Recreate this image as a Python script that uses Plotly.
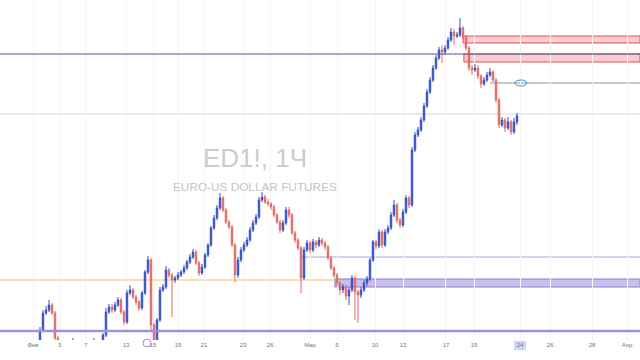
import plotly.graph_objects as go

# ---- data (hourly candles, index = bar number) ----
first_open = 1.0755
closes = [
    1.0770,1.0787,1.0790,1.0795,1.0787,1.0762,1.0750,1.0745,1.0748,1.0744,
    1.0750,1.0752,1.0745,1.0740,1.0742,1.0746,1.0743,1.0750,1.0753,1.0748,
    1.0752,1.0765,1.0788,1.0793,1.0790,1.0795,1.0800,1.0788,1.0778,1.0807,
    1.0810,1.0803,1.0798,1.0792,1.0807,1.0828,1.0840,1.0775,1.0750,1.0780,
    1.0810,1.0813,1.0830,1.0825,1.0820,1.0822,1.0825,1.0828,1.0832,1.0838,
    1.0843,1.0848,1.0837,1.0827,1.0833,1.0845,1.0855,1.0872,1.0882,1.0892,
    1.0902,1.0890,1.0878,1.0873,1.0855,1.0825,1.0840,1.0850,1.0855,1.0860,
    1.0870,1.0877,1.0883,1.0900,1.0903,1.0898,1.0896,1.0893,1.0885,1.0878,
    1.0870,1.0877,1.0890,1.0885,1.0867,1.0860,1.0852,1.0822,1.0850,1.0857,
    1.0850,1.0858,1.0855,1.0860,1.0857,1.0853,1.0842,1.0832,1.0825,1.0817,
    1.0810,1.0813,1.0804,1.0810,1.0822,1.0808,1.0805,1.0810,1.0817,1.0821,
    1.0840,1.0858,1.0854,1.0868,1.0855,1.0868,1.0872,1.0885,1.0895,1.0880,
    1.0875,1.0888,1.0902,1.0895,1.0950,1.0965,1.0970,1.0980,1.0994,1.1008,
    1.1020,1.1032,1.1042,1.1050,1.1048,1.1052,1.1060,1.1068,1.1064,1.1065,
    1.1072,1.1063,1.1052,1.1032,1.1030,1.1032,1.1024,1.1016,1.1020,1.1025,
    1.1028,1.1020,1.1000,1.0975,1.0980,1.0972,1.0978,1.0968,1.0978,1.0984,
]
highs = [
    1.0773,1.0790,1.0794,1.0800,1.0797,1.0789,1.0764,1.0752,1.0750,1.0750,
    1.0752,1.0762,1.0754,1.0747,1.0745,1.0748,1.0748,1.0752,1.0762,1.0755,
    1.0754,1.0767,1.0792,1.0796,1.0796,1.0798,1.0803,1.0802,1.0790,1.0810,
    1.0815,1.0812,1.0805,1.0800,1.0809,1.0830,1.0844,1.0842,1.0777,1.0782,
    1.0813,1.0816,1.0834,1.0832,1.0827,1.0824,1.0828,1.0830,1.0835,1.0840,
    1.0846,1.0851,1.0850,1.0839,1.0836,1.0847,1.0857,1.0874,1.0885,1.0895,
    1.0907,1.0904,1.0892,1.0880,1.0875,1.0857,1.0843,1.0853,1.0858,1.0863,
    1.0873,1.0880,1.0886,1.0903,1.0908,1.0905,1.0901,1.0898,1.0895,1.0887,
    1.0880,1.0880,1.0893,1.0893,1.0887,1.0869,1.0862,1.0854,1.0853,1.0860,
    1.0859,1.0861,1.0860,1.0863,1.0862,1.0859,1.0855,1.0844,1.0834,1.0827,
    1.0819,1.0816,1.0815,1.0813,1.0825,1.0824,1.0810,1.0813,1.0820,1.0824,
    1.0842,1.0860,1.0860,1.0871,1.0870,1.0871,1.0875,1.0888,1.0900,1.0897,
    1.0882,1.0891,1.0905,1.0904,1.0953,1.0968,1.0973,1.0983,1.0997,1.1011,
    1.1023,1.1035,1.1045,1.1053,1.1055,1.1055,1.1063,1.1072,1.1071,1.1068,
    1.1082,1.1074,1.1065,1.1054,1.1035,1.1036,1.1035,1.1026,1.1023,1.1028,
    1.1032,1.1030,1.1022,1.1002,1.0983,1.0982,1.0983,1.0980,1.0982,1.0987,
]
lows = [
    1.0752,1.0768,1.0785,1.0788,1.0785,1.0760,1.0747,1.0742,1.0742,1.0741,
    1.0742,1.0748,1.0743,1.0737,1.0738,1.0740,1.0741,1.0741,1.0748,1.0746,
    1.0746,1.0750,1.0763,1.0786,1.0787,1.0788,1.0793,1.0786,1.0775,1.0776,
    1.0805,1.0801,1.0795,1.0789,1.0790,1.0805,1.0826,1.0770,1.0745,1.0748,
    1.0778,1.0808,1.0811,1.0822,1.0783,1.0817,1.0820,1.0823,1.0826,1.0830,
    1.0836,1.0841,1.0835,1.0824,1.0825,1.0831,1.0843,1.0853,1.0870,1.0880,
    1.0890,1.0888,1.0876,1.0871,1.0853,1.0818,1.0822,1.0838,1.0848,1.0853,
    1.0858,1.0868,1.0875,1.0881,1.0898,1.0896,1.0894,1.0890,1.0883,1.0876,
    1.0867,1.0868,1.0875,1.0882,1.0865,1.0857,1.0850,1.0807,1.0820,1.0848,
    1.0847,1.0848,1.0852,1.0853,1.0854,1.0850,1.0840,1.0830,1.0822,1.0814,
    1.0805,1.0807,1.0800,1.0795,1.0808,1.0780,1.0777,1.0802,1.0808,1.0814,
    1.0819,1.0838,1.0851,1.0852,1.0852,1.0853,1.0866,1.0870,1.0883,1.0877,
    1.0872,1.0873,1.0886,1.0892,1.0893,1.0948,1.0963,1.0968,1.0978,1.0992,
    1.1006,1.1018,1.1030,1.1040,1.1037,1.1045,1.1050,1.1058,1.1055,1.1062,
    1.1063,1.1060,1.1050,1.1029,1.1025,1.1028,1.1021,1.1012,1.1014,1.1018,
    1.1023,1.1018,1.0997,1.0972,1.0973,1.0968,1.0970,1.0965,1.0966,1.0975,
]
opens = [first_open] + closes[:-1]
bars = list(range(len(closes)))

tick_bars = [-2.33, 6.67, 15.33, 28.67, 37.67, 46, 54.67, 67.67, 76.67, 90,
             99, 111.67, 121, 135.33, 144.67, 160, 170, 184, 195.67]
tick_labels = ["Фев", "5", "7", "13", "15", "19", "21", "23", "26", "Мар",
               "5", "10", "13", "17", "19", "24", "26", "28", "Апр"]

# drawn levels (price)
level_top = 1.1046
level_bottom = 1.0769
level_gray = 1.0986
level_target = 1.1017
level_mid = 1.0843
level_yellow = 1.0820
zone_red1 = (1.1057, 1.1064)
zone_red2 = (1.1038, 1.1046)
zone_purple = (1.0813, 1.0821)

X0, X1 = -13.333, 200
Y0, Y1 = 1.0760, 1.1100

fig = go.Figure(go.Candlestick(
    x=bars, open=opens, high=highs, low=lows, close=closes,
    increasing=dict(line=dict(color="#3550c8", width=1), fillcolor="#3550c8"),
    decreasing=dict(line=dict(color="#e26a62", width=1), fillcolor="#e26a62"),
    whiskerwidth=0, showlegend=False, hoverinfo="skip",
))

shapes = []
# zones
shapes.append(dict(type="rect", xref="x", yref="y", x0=141, x1=X1, y0=zone_red1[0], y1=zone_red1[1],
                   fillcolor="rgba(240,110,120,0.35)", line=dict(color="#e0505a", width=1), layer="below"))
shapes.append(dict(type="rect", xref="x", yref="y", x0=141.3, x1=X1, y0=zone_red2[0], y1=zone_red2[1],
                   fillcolor="rgba(240,110,120,0.35)", line=dict(color="#e0505a", width=1), layer="below"))
shapes.append(dict(type="rect", xref="x", yref="y", x0=98.3, x1=X1, y0=zone_purple[0], y1=zone_purple[1],
                   fillcolor="rgba(160,140,220,0.55)", line=dict(color="#8a7fd0", width=1), layer="below"))
# lines
shapes.append(dict(type="line", xref="x", yref="y", x0=X0, x1=X1, y0=level_top, y1=level_top,
                   line=dict(color="#55529e", width=1)))
shapes.append(dict(type="line", xref="x", yref="y", x0=X0, x1=X1, y0=level_bottom, y1=level_bottom,
                   line=dict(color="#9d93d8", width=2.5)))
shapes.append(dict(type="line", xref="x", yref="y", x0=X0, x1=X1, y0=level_gray, y1=level_gray,
                   line=dict(color="#d6d6dc", width=1), layer="below"))
shapes.append(dict(type="line", xref="x", yref="y", x0=150, x1=X1, y0=level_target, y1=level_target,
                   line=dict(color="#8a92b4", width=1), layer="below"))
shapes.append(dict(type="line", xref="x", yref="y", x0=86.7, x1=X1, y0=level_mid, y1=level_mid,
                   line=dict(color="#aaa4d8", width=1), layer="below"))
shapes.append(dict(type="line", xref="x", yref="y", x0=X0, x1=98.3, y0=level_yellow, y1=level_yellow,
                   line=dict(color="#f0c35a", width=1), layer="below"))
# target ellipse
shapes.append(dict(type="circle", xref="x", yref="y", xsizemode="pixel", ysizemode="pixel",
                   xanchor=160.3, yanchor=level_target, x0=-6, x1=6, y0=-3, y1=3,
                   line=dict(color="#3a8fd6", width=1)))
# event marker
shapes.append(dict(type="circle", xref="x", yref="paper", xsizemode="pixel", ysizemode="pixel",
                   xanchor=35.67, yanchor=0.0, x0=-4, x1=4, y0=-7, y1=1,
                   line=dict(color="#a48bd6", width=1)))
# last-bar time highlight
shapes.append(dict(type="rect", xref="x", yref="paper", x0=158, x1=162, y0=-0.003, y1=-0.03,
                   fillcolor="#c9d8f8", line=dict(width=0), layer="below"))

fig.update_layout(
    width=640, height=360,
    margin=dict(l=0, r=0, t=0, b=20),
    paper_bgcolor="white", plot_bgcolor="white",
    shapes=shapes,
    xaxis=dict(range=[X0, X1], tickvals=tick_bars, ticktext=tick_labels,
               tickfont=dict(size=6, color="#777777", family="Liberation Sans"),
               showgrid=True, gridcolor="#f4f4f4", zeroline=False, showline=False,
               ticks="", rangeslider=dict(visible=False), fixedrange=True),
    yaxis=dict(range=[Y0, Y1], showticklabels=False, showgrid=False, zeroline=False,
               showline=False, fixedrange=True),
    annotations=[
        dict(text="ED1!, 1Ч", x=0.398, y=0.535, xref="paper", yref="paper",
             showarrow=False, font=dict(size=26, color="#cccccc", family="Liberation Sans")),
        dict(text="EURO-US DOLLAR FUTURES", x=0.398, y=0.45, xref="paper", yref="paper",
             showarrow=False, font=dict(size=11.8, color="#c4c4c4", family="Liberation Sans")),
    ],
)

fig.write_html("out.html", config={"displayModeBar": False},
               post_script="document.body.style.margin='0px';")
